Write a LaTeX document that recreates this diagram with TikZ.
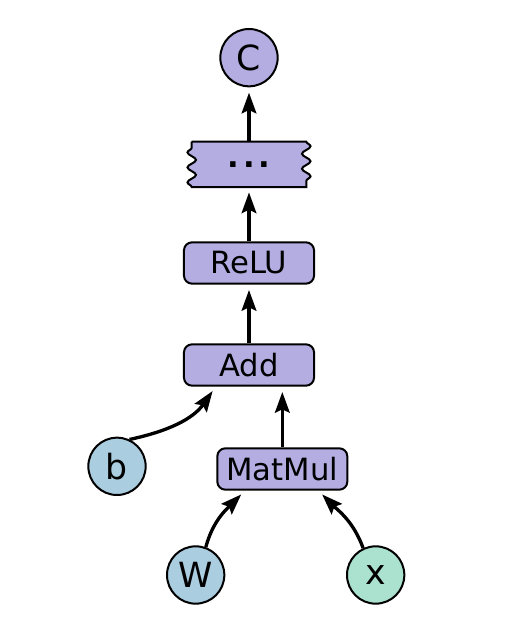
\documentclass[tikz,border=0pt]{standalone}
\usepackage{fontspec}
\setmainfont{DejaVu Sans}
\usetikzlibrary{positioning, arrows.meta, decorations.pathmorphing, backgrounds}
\definecolor{opfill}{RGB}{179,173,225}
\definecolor{parfill}{RGB}{171,205,224}
\definecolor{infill}{RGB}{171,226,207}
\tikzstyle{op} = [rectangle, rounded corners=6pt, minimum width=97.5pt, minimum height=31pt, inner xsep=6pt, draw=black, line width=1.5pt, fill=opfill, font=\fontsize{23pt}{27pt}\selectfont]
\tikzstyle{var} = [circle, minimum size=43pt, inner sep=0pt, draw=black, line width=1.5pt, font=\fontsize{26pt}{30pt}\selectfont]
\tikzstyle{more} = [rectangle, minimum width=85.5pt, minimum height=33.75pt, font=\fontsize{23pt}{27pt}\selectfont\bfseries]
\tikzstyle{wavy} = [decoration={snake, amplitude=3.2pt, segment length=11.25pt}]
\tikzstyle{arrow} = [line width=2.5pt, -{Stealth[length=15.5pt, width=11pt, inset=2.5pt]}, shorten >=4pt]

\begin{document}
\begin{tikzpicture}[on grid]
\useasboundingbox (-186.75pt,-199.5pt) rectangle (193.5pt,273.75pt);

%% NODES

\node (add) [op] {Add};
\node (relu) [op, above=76.5pt of add] {ReLU};
\node (dots) [more, above=74pt of relu] {.\hspace{3pt}.\hspace{3pt}.};
\node (c) [var, fill=opfill, above=80pt of dots] {C};
\node (matmul) [op, below right=78pt and 25pt of add] {MatMul};
\node (b) [var, fill=parfill, below left=76pt and 99pt of add] {b};
\node (w) [var, fill=parfill, below left=79.5pt and 65pt of matmul] {W};
\node (x) [var, fill=infill, below right=79.5pt and 70pt of matmul] {x};

\begin{pgfonlayer}{background}
\path [draw=black, line width=1.5pt, fill=opfill] (dots.north west) -- (dots.north east) decorate[wavy] {-- (dots.south east)} -- (dots.south west) decorate[wavy] {-- (dots.north west)} -- cycle;
\end{pgfonlayer}

%% ARROWS

\draw [arrow] (dots) -- (c);
\draw [arrow] (relu) -- (dots);
\draw [arrow] (add) -- (relu);
\draw [arrow] (matmul.north) -- ([xshift=25pt]add.south);
\draw [arrow] (b.65) to[out=12, in=235] ([xshift=-25pt]add.south);
\draw [arrow] (w.70) to[out=75, in=225] ([xshift=-28pt]matmul.south);
\draw [arrow] (x.115) to[out=110, in=-45] ([xshift=27pt]matmul.south);

\end{tikzpicture}
\end{document}
